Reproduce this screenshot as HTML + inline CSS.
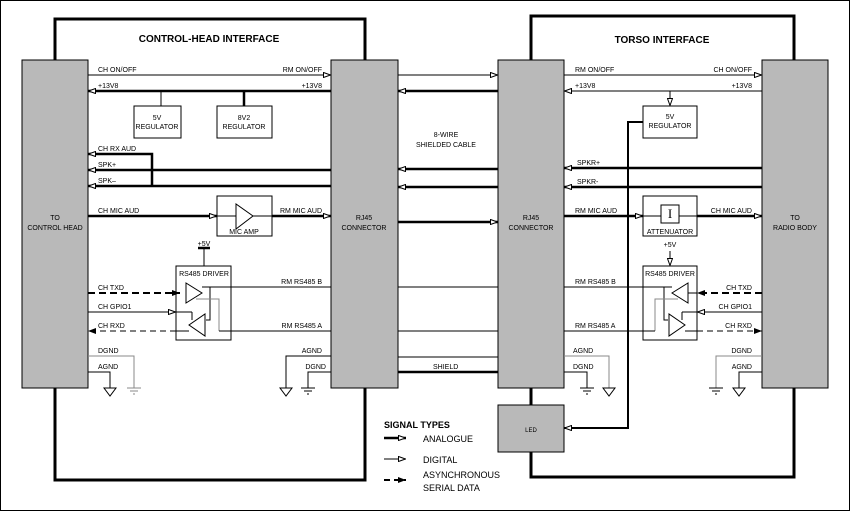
<!DOCTYPE html>
<html><head><meta charset="utf-8"><style>
body{margin:0;background:#fff}
svg{display:block;font-family:"Liberation Sans",sans-serif}
.s{font-size:7px}
</style></head><body>
<svg width="851" height="512" viewBox="0 0 851 512" xmlns="http://www.w3.org/2000/svg">
<defs>
<marker id="o" markerUnits="userSpaceOnUse" viewBox="0 0 8 6" refX="8" refY="3" markerWidth="8" markerHeight="6" orient="auto"><path d="M0.5,0.5 L7.5,3 L0.5,5.5 z" fill="#fff" stroke="#000" stroke-width="1"/></marker>
<marker id="f" markerUnits="userSpaceOnUse" viewBox="0 0 8 6" refX="8" refY="3" markerWidth="8" markerHeight="7" orient="auto"><path d="M0,0 L8,3 L0,6 z" fill="#000"/></marker>
</defs>
<rect x="0.5" y="0.5" width="849" height="510" fill="#fff" stroke="#000"/>
<!-- interface boxes -->
<rect x="55" y="19" width="310" height="461" fill="none" stroke="#000" stroke-width="3"/>
<rect x="531" y="16" width="263" height="461" fill="none" stroke="#000" stroke-width="3"/>
<text x="209" y="42" font-size="10" font-weight="bold" text-anchor="middle">CONTROL-HEAD INTERFACE</text>
<text x="662" y="43" font-size="10" font-weight="bold" text-anchor="middle">TORSO INTERFACE</text>
<!-- gray blocks -->
<g fill="#b9b9b9" stroke="#000" stroke-width="1">
<rect x="22" y="60" width="66" height="328"/>
<rect x="331" y="60" width="67" height="328"/>
<rect x="498" y="60" width="66" height="328"/>
<rect x="762" y="60" width="66" height="328"/>
<rect x="498" y="405" width="66" height="47"/>
</g>
<g class="s" text-anchor="middle">
<text x="55" y="220">TO</text><text x="55" y="230">CONTROL HEAD</text>
<text x="364" y="220">RJ45</text><text x="364" y="230">CONNECTOR</text>
<text x="531" y="220">RJ45</text><text x="531" y="230">CONNECTOR</text>
<text x="795" y="220">TO</text><text x="795" y="230">RADIO BODY</text>
<text x="531" y="432" font-size="6">LED</text>
<text x="446" y="137">8-WIRE</text><text x="446" y="147">SHIELDED CABLE</text>
</g>
<g fill="none" stroke="#000">
<!-- left interface -->
<line x1="88" y1="75" x2="331" y2="75" marker-end="url(#o)"/>
<line x1="331" y1="91" x2="88" y2="91" stroke-width="2.5" marker-end="url(#o)"/>
<line x1="161" y1="91" x2="161" y2="106"/>
<line x1="244" y1="91" x2="244" y2="106" stroke-width="2.5"/>
<rect x="134" y="106" width="47" height="32"/>
<rect x="217" y="106" width="55" height="32"/>
<polyline points="152,186 152,154 88,154" stroke-width="2.5" marker-end="url(#o)"/>
<line x1="331" y1="170" x2="88" y2="170" stroke-width="2.5" marker-end="url(#o)"/>
<line x1="331" y1="186" x2="88" y2="186" stroke-width="2.5" marker-end="url(#o)"/>
<line x1="88" y1="216" x2="217" y2="216" stroke-width="2.5" marker-end="url(#o)"/>
<rect x="217" y="196" width="55" height="40"/>
<line x1="217" y1="216" x2="236" y2="216"/><line x1="253" y1="216" x2="272" y2="216"/>
<polygon points="236,204 236,229 253,216"/>
<line x1="272" y1="216" x2="331" y2="216" stroke-width="2.5" marker-end="url(#o)"/>
<line x1="198" y1="248" x2="210" y2="248" stroke-width="2.5"/>
<line x1="204" y1="248" x2="204" y2="266"/>
<rect x="176" y="266" width="55" height="74"/>
<polygon points="186,283 186,303 202,293"/>
<polygon points="205,314 205,336 189,325"/>
<polyline points="202,287 210,287 210,320 206,320"/>
<line x1="210" y1="287" x2="331" y2="287"/>
<polyline points="196,299 219,299 219,331" stroke="#888"/>
<line x1="192" y1="312" x2="192" y2="320"/>
<line x1="88" y1="312" x2="176" y2="312" marker-end="url(#o)"/>
<line x1="176" y1="312" x2="192" y2="312"/>
<line x1="88" y1="293" x2="180" y2="293" stroke-width="2" stroke-dasharray="7,4" marker-end="url(#f)"/>
<line x1="176" y1="331" x2="88" y2="331" stroke-dasharray="6,4" marker-end="url(#f)"/>
<line x1="189" y1="331" x2="176" y2="331"/>
<line x1="219" y1="331" x2="331" y2="331"/>
<polyline points="88,356 134,356 134,388" stroke="#888"/>
<polyline points="88,372 110,372 110,388"/>
<polygon points="104,388 116,388 110,396"/>
<g stroke="#888"><line x1="127" y1="388" x2="141" y2="388"/><line x1="130" y1="391" x2="138" y2="391"/><line x1="133" y1="394" x2="135" y2="394"/></g>
<polyline points="331,356 286,356 286,388"/>
<polygon points="280,388 292,388 286,396"/>
<polyline points="331,372 308,372 308,388"/>
<line x1="301" y1="388" x2="315" y2="388"/><line x1="304" y1="391" x2="312" y2="391"/><line x1="307" y1="394" x2="309" y2="394"/>
<!-- cable -->
<line x1="398" y1="75" x2="498" y2="75" marker-end="url(#o)"/>
<line x1="498" y1="91" x2="398" y2="91" stroke-width="2.5" marker-end="url(#o)"/>
<line x1="498" y1="169" x2="398" y2="169" stroke-width="2.5" marker-end="url(#o)"/>
<line x1="498" y1="187" x2="398" y2="187" stroke-width="2.5" marker-end="url(#o)"/>
<line x1="398" y1="222" x2="498" y2="222" stroke-width="2.5" marker-end="url(#o)"/>
<line x1="398" y1="287" x2="498" y2="287"/>
<line x1="398" y1="331" x2="498" y2="331"/>
<line x1="398" y1="357" x2="498" y2="357"/>
<line x1="398" y1="372" x2="498" y2="372" stroke-width="2.5"/>
<!-- right interface -->
<line x1="564" y1="75" x2="762" y2="75" marker-end="url(#o)"/>
<line x1="762" y1="91" x2="564" y2="91" marker-end="url(#o)"/>
<line x1="670" y1="91" x2="670" y2="106" marker-end="url(#o)"/>
<rect x="643" y="106" width="54" height="32"/>
<polyline points="643,122 628,122 628,428 564,428" stroke-width="2" marker-end="url(#o)"/>
<line x1="762" y1="168" x2="564" y2="168" stroke-width="2.5" marker-end="url(#o)"/>
<line x1="762" y1="187" x2="564" y2="187" stroke-width="2.5" marker-end="url(#o)"/>
<line x1="564" y1="216" x2="643" y2="216" stroke-width="2.5" marker-end="url(#o)"/>
<rect x="643" y="196" width="54" height="40"/>
<rect x="661" y="205" width="18" height="18"/>
<line x1="643" y1="216" x2="661" y2="216"/><line x1="679" y1="216" x2="697" y2="216"/>
<line x1="697" y1="216" x2="762" y2="216" stroke-width="2.5" marker-end="url(#o)"/>
<line x1="670" y1="251" x2="670" y2="266" marker-end="url(#o)"/>
<rect x="643" y="266" width="54" height="74"/>
<polygon points="688,283 688,303 672,293"/>
<polygon points="669,314 669,336 685,325"/>
<polyline points="672,287 664,287 664,320 668,320"/>
<line x1="564" y1="287" x2="664" y2="287"/>
<polyline points="678,299 655,299 655,331" stroke="#888"/>
<line x1="682" y1="312" x2="682" y2="320"/>
<line x1="762" y1="312" x2="697" y2="312" marker-end="url(#o)"/>
<line x1="697" y1="312" x2="682" y2="312"/>
<line x1="762" y1="293" x2="697" y2="293" stroke-width="2" stroke-dasharray="7,4" marker-end="url(#f)"/>
<line x1="697" y1="293" x2="688" y2="293"/>
<line x1="697" y1="331" x2="762" y2="331" stroke-dasharray="6,4" marker-end="url(#f)"/>
<line x1="685" y1="331" x2="697" y2="331"/>
<line x1="564" y1="331" x2="655" y2="331"/>
<polyline points="564,356 609,356 609,388" stroke="#888"/>
<polygon points="603,388 615,388 609,396"/>
<polyline points="564,372 587,372 587,388"/>
<line x1="580" y1="388" x2="594" y2="388"/><line x1="583" y1="391" x2="591" y2="391"/><line x1="586" y1="394" x2="588" y2="394"/>
<polyline points="762,356 716,356 716,388" stroke="#888"/>
<line x1="709" y1="388" x2="723" y2="388"/><line x1="712" y1="391" x2="720" y2="391"/><line x1="715" y1="394" x2="717" y2="394"/>
<polyline points="762,372 739,372 739,388"/>
<polygon points="733,388 745,388 739,396"/>
<!-- legend -->
<line x1="384" y1="438" x2="406" y2="438" stroke-width="2.5" marker-end="url(#o)"/>
<line x1="384" y1="459" x2="406" y2="459" marker-end="url(#o)"/>
<line x1="384" y1="480" x2="406" y2="480" stroke-width="2" stroke-dasharray="6,4" marker-end="url(#f)"/>
</g>
<text x="670" y="218" font-size="13" font-family="Liberation Serif" text-anchor="middle">I</text>
<g class="s">
<text x="98" y="72">CH ON/OFF</text><text x="322" y="72" text-anchor="end">RM ON/OFF</text>
<text x="98" y="88">+13V8</text><text x="322" y="88" text-anchor="end">+13V8</text>
<text x="157" y="120" text-anchor="middle">5V</text><text x="157" y="129" text-anchor="middle">REGULATOR</text>
<text x="244" y="120" text-anchor="middle">8V2</text><text x="244" y="129" text-anchor="middle">REGULATOR</text>
<text x="98" y="151">CH RX AUD</text><text x="98" y="167">SPK+</text><text x="98" y="183">SPK–</text>
<text x="98" y="213">CH MIC AUD</text><text x="322" y="213" text-anchor="end">RM MIC AUD</text>
<text x="244" y="234" text-anchor="middle">MIC AMP</text>
<text x="204" y="246" text-anchor="middle">+5V</text>
<text x="204" y="276" text-anchor="middle">RS485 DRIVER</text>
<text x="98" y="290">CH TXD</text><text x="98" y="309">CH GPIO1</text><text x="98" y="328">CH RXD</text>
<text x="322" y="284" text-anchor="end">RM RS485 B</text><text x="322" y="328" text-anchor="end">RM RS485 A</text>
<text x="98" y="353">DGND</text><text x="98" y="369">AGND</text>
<text x="322" y="353" text-anchor="end">AGND</text><text x="326" y="369" text-anchor="end">DGND</text>
<text x="433" y="369">SHIELD</text>
<text x="575" y="72">RM ON/OFF</text><text x="752" y="72" text-anchor="end">CH ON/OFF</text>
<text x="575" y="88">+13V8</text><text x="752" y="88" text-anchor="end">+13V8</text>
<text x="670" y="119" text-anchor="middle">5V</text><text x="670" y="128" text-anchor="middle">REGULATOR</text>
<text x="577" y="165">SPKR+</text><text x="577" y="184">SPKR-</text>
<text x="575" y="213">RM MIC AUD</text><text x="752" y="213" text-anchor="end">CH MIC AUD</text>
<text x="670" y="234" text-anchor="middle">ATTENUATOR</text>
<text x="670" y="247" text-anchor="middle">+5V</text>
<text x="670" y="276" text-anchor="middle">RS485 DRIVER</text>
<text x="575" y="284">RM RS485 B</text><text x="575" y="328">RM RS485 A</text>
<text x="752" y="290" text-anchor="end">CH TXD</text><text x="752" y="309" text-anchor="end">CH GPIO1</text><text x="752" y="328" text-anchor="end">CH RXD</text>
<text x="573" y="353">AGND</text><text x="573" y="369">DGND</text>
<text x="752" y="353" text-anchor="end">DGND</text><text x="752" y="369" text-anchor="end">AGND</text>
</g>
<text x="384" y="428" font-size="9" font-weight="bold">SIGNAL TYPES</text>
<g font-size="9"><text x="423" y="442">ANALOGUE</text><text x="423" y="463">DIGITAL</text>
<text x="423" y="478">ASYNCHRONOUS</text><text x="423" y="491">SERIAL DATA</text></g>
</svg>
</body></html>
